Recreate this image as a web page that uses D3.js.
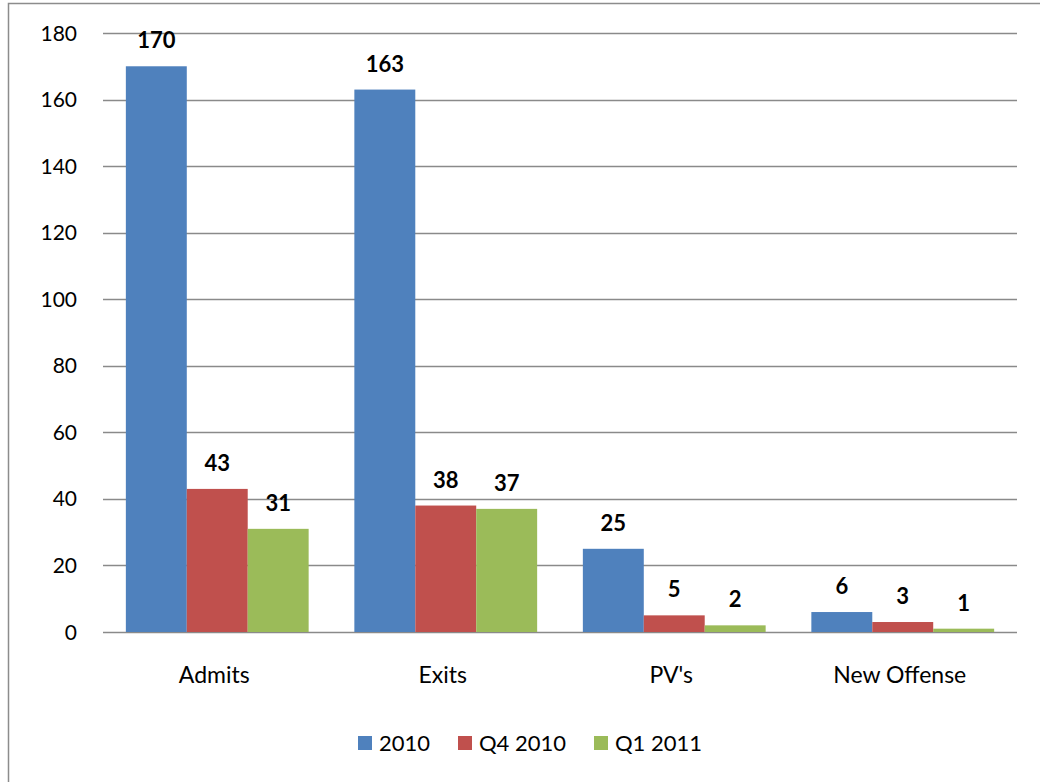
<!DOCTYPE html>
<html>
<head>
<meta charset="utf-8">
<script src="https://cdn.jsdelivr.net/npm/d3@7"></script>
<style>
  body { margin: 0; background: #fff; }
  text { font-family: Lato, "Open Sans", sans-serif; fill: #000; }
</style>
</head>
<body>
<div id="chart"></div>
<script>
// chart data
var categories = ["Admits", "Exits", "PV's", "New Offense"];
var seriesNames = ["2010", "Q4 2010", "Q1 2011"];
var values2010 = [170, 163, 25, 6];
var valuesQ42010 = [43, 38, 5, 3];
var valuesQ12011 = [31, 37, 2, 1];
var yTicks = [0, 20, 40, 60, 80, 100, 120, 140, 160, 180];

var colors = ["#4F81BD", "#C0504D", "#9BBB59"];
var allSeries = [values2010, valuesQ42010, valuesQ12011];

var width = 1040, height = 782;
var plot = {left: 103, right: 1017, top: 33, bottom: 632};

var svg = d3.select("#chart").append("svg")
    .attr("width", width)
    .attr("height", height);

// outer chart border
svg.append("rect")
    .attr("x", 8.5).attr("y", 3.5)
    .attr("width", 1040).attr("height", 800)
    .attr("fill", "none")
    .attr("stroke", "#8c8c8c")
    .attr("stroke-width", 1.5);

var x0 = d3.scaleBand()
    .domain(categories)
    .range([plot.left, plot.right])
    .paddingInner(0.75 / 3.75)
    .paddingOuter(0.75 / 3.75 / 2);

var x1 = d3.scaleBand()
    .domain(seriesNames)
    .range([0, x0.bandwidth()]);

var y = d3.scaleLinear()
    .domain([0, 180])
    .range([plot.bottom, plot.top]);

// gridlines
svg.append("g").selectAll("line")
    .data(yTicks)
    .enter().append("line")
    .attr("x1", plot.left).attr("x2", plot.right)
    .attr("y1", function(d) { return Math.round(y(d)) + 0.5; })
    .attr("y2", function(d) { return Math.round(y(d)) + 0.5; })
    .attr("stroke", "#8a8a8a")
    .attr("stroke-width", 1.5);

// y tick labels
svg.append("g").selectAll("text")
    .data(yTicks)
    .enter().append("text")
    .attr("x", 77)
    .attr("y", function(d) { return y(d); })
    .attr("dy", "0.36em")
    .attr("text-anchor", "end")
    .style("font-size", "21px")
    .text(function(d) { return d; });

// bars
var groups = svg.append("g").selectAll("g")
    .data(categories)
    .enter().append("g")
    .attr("transform", function(d) { return "translate(" + x0(d) + ",0)"; });

groups.selectAll("rect")
    .data(function(d, i) {
        return seriesNames.map(function(s, j) { return {series: s, idx: j, value: allSeries[j][i]}; });
    })
    .enter().append("rect")
    .attr("x", function(d) { return x1(d.series); })
    .attr("width", x1.bandwidth())
    .attr("y", function(d) { return y(d.value); })
    .attr("height", function(d) { return plot.bottom - y(d.value); })
    .attr("fill", function(d) { return colors[d.idx]; });

// value labels
groups.selectAll("text")
    .data(function(d, i) {
        return seriesNames.map(function(s, j) { return {series: s, value: allSeries[j][i]}; });
    })
    .enter().append("text")
    .attr("x", function(d) { return x1(d.series) + x1.bandwidth() / 2; })
    .attr("y", function(d) { return y(d.value) - 18; })
    .attr("text-anchor", "middle")
    .style("font-size", "22px")
    .style("font-weight", "bold")
    .text(function(d) { return d.value; });

// category labels
svg.append("g").selectAll("text")
    .data(categories)
    .enter().append("text")
    .attr("x", function(d) { return x0(d) + x0.bandwidth() / 2 - 3; })
    .attr("y", 675)
    .attr("dy", "0.36em")
    .attr("text-anchor", "middle")
    .style("font-size", "23px")
    .text(function(d) { return d; });

// legend
var legendX = [358, 458, 594];
var legend = svg.append("g").selectAll("g")
    .data(seriesNames)
    .enter().append("g")
    .attr("transform", function(d, i) { return "translate(" + legendX[i] + ",743)"; });

legend.append("rect")
    .attr("x", 0).attr("y", -7)
    .attr("width", 14).attr("height", 14)
    .attr("fill", function(d, i) { return colors[i]; });

legend.append("text")
    .attr("x", 21)
    .attr("dy", "0.36em")
    .style("font-size", "22px")
    .text(function(d) { return d; });
</script>
</body>
</html>
